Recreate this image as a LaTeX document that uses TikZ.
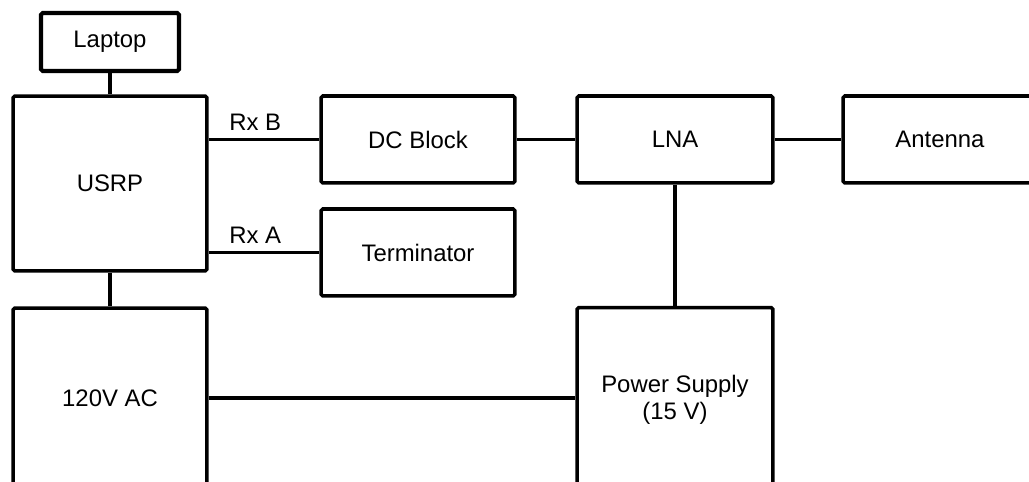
\documentclass[tikz,border=0pt]{standalone}
\usepackage{fontspec}
\setmainfont{Liberation Sans}
\usetikzlibrary{shadows}

\begin{document}
\begin{tikzpicture}[x=0.02cm,y=-0.02cm,
    block/.style={draw,line width=2pt,rounded corners=1pt,fill=white,
      minimum width=3.88cm,minimum height=1.74cm,inner sep=0pt,align=center,
      font=\fontsize{13.6}{15.5}\selectfont},
    wire/.style={line width=2pt}]
  \clip (0,0) rectangle (1029,482);
  \node[block,minimum width=2.76cm,minimum height=1.16cm,line width=2.3pt,
    drop shadow={opacity=0.25,shadow xshift=0.5pt,shadow yshift=-0.8pt}] (laptop) at (110,42) {Laptop};
  \node[block,minimum height=3.5cm] (usrp) at (110,183.5) {USRP};
  \node[block] (dcblock) at (418,139.5) {DC Block};
  \node[block,minimum width=3.92cm] (lna) at (675,139.5) {LNA};
  \node[block] (antenna) at (940,139.5) {Antenna};
  \node[block] (term) at (418,252.5) {Terminator};
  \node[block,minimum height=3.6cm] (ac) at (110,398) {120V AC};
  \node[block,minimum width=3.92cm,minimum height=3.7cm] (psu) at (675,400) {Power Supply\\(15 V)};
  \draw[wire] (laptop)--(usrp);
  \draw[wire] (usrp)--(ac);
  \draw[wire] (usrp.east |- dcblock.west)--node[above=1pt,pos=0.42,font=\fontsize{13.6}{15.5}\selectfont]{Rx B} (dcblock.west);
  \draw[wire] (usrp.east |- term.west)--node[above=1pt,pos=0.42,font=\fontsize{13.6}{15.5}\selectfont]{Rx A} (term.west);
  \draw[wire] (dcblock)--(lna)--(antenna);
  \draw[wire] (lna)--(psu);
  \draw[wire] (ac.east)--(ac.east -| psu.west);
\end{tikzpicture}
\end{document}
